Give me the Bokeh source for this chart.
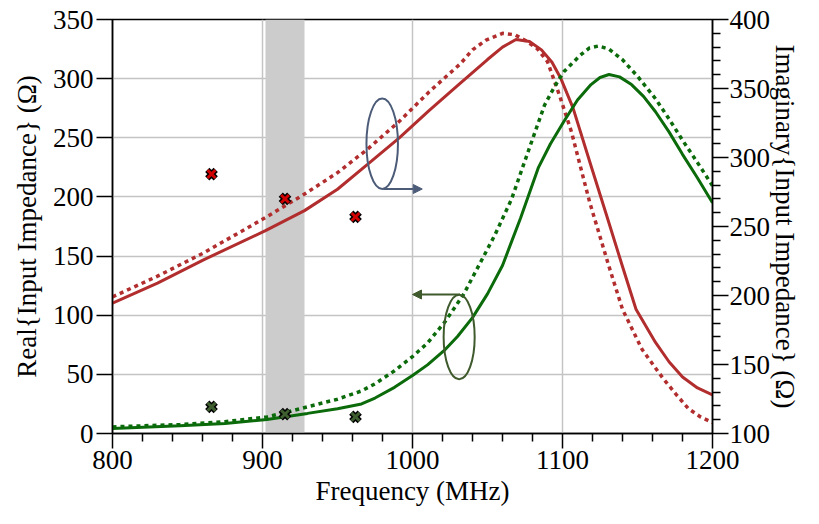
from bokeh.plotting import figure
from bokeh.models import Range1d, LinearAxis, BoxAnnotation, Arrow, NormalHead, FixedTicker
from bokeh.embed import file_html
from bokeh.resources import INLINE

# ---------------- data ----------------
# Imaginary part (right axis), simulated: solid and dotted
imag_solid_f = [800, 830, 861, 902, 928, 950, 970, 991, 1011, 1030, 1050, 1060, 1069, 1078, 1086, 1093, 1099, 1107, 1119, 1130, 1140, 1149, 1162, 1171, 1180, 1190, 1200]
imag_solid_v = [194.5, 209, 226, 247, 261.5, 277, 295, 314, 334, 352, 371, 380, 385.5, 384, 378, 369, 357, 336, 294, 256, 221, 190, 166, 152, 141, 133, 128]
imag_dot_f = [800, 830, 861, 902, 928, 950, 970, 991, 1011, 1032, 1040, 1049, 1060, 1068, 1075, 1083, 1090, 1098, 1106, 1118, 1131, 1140, 1153, 1167, 1176, 1184, 1192, 1200]
imag_dot_v = [199, 214, 231, 256.5, 273.5, 289, 306, 326, 347.5, 368, 378, 385, 390, 389, 385, 379, 369.5, 345, 318.5, 268, 221, 190, 161, 140, 128, 118, 112, 108]

# Real part (left axis), simulated: solid and dotted
real_solid_f = [800, 845, 875, 903, 930, 950, 966, 975, 988, 1000, 1010, 1021, 1030, 1040, 1050, 1060, 1072, 1084, 1092, 1101, 1110, 1119, 1125, 1131, 1138, 1146, 1154, 1162, 1171, 1180, 1190, 1200]
real_solid_v = [4.2, 6.5, 8.5, 11.9, 17, 21, 25, 30, 39, 49, 58, 70, 82, 98, 118, 142, 182, 225, 245, 264, 282, 295, 301, 303.5, 301.5, 295, 285, 272, 255, 236, 216, 195]
real_dot_f = [800, 845, 875, 903, 916, 930, 950, 966, 975, 988, 1000, 1010, 1022, 1034, 1044, 1055, 1066, 1077, 1088, 1095, 1101, 1112, 1118, 1124, 1131, 1140, 1150, 1162, 1171, 1180, 1190, 1200]
real_dot_v = [5.6, 7.6, 10, 14, 18, 22.6, 29, 36, 42, 53, 65, 76.5, 95, 117.5, 141.5, 168, 198, 238, 277.5, 294, 306, 320, 326, 327.6, 325, 316, 302, 283, 266, 248, 229, 209.5]

# Measured points
meas_f = [866, 915, 962]
meas_imag = [288, 270, 257]
meas_real = [22.6, 16.4, 14.1]

# ISM band
band_lo, band_hi = 902, 928

# ticks
x_ticks = [800, 900, 1000, 1100, 1200]
x_minor = [820, 840, 860, 880, 920, 940, 960, 980, 1020, 1040, 1060, 1080, 1120, 1140, 1160, 1180]
left_ticks = [0, 50, 100, 150, 200, 250, 300, 350]
right_ticks = [100, 150, 200, 250, 300, 350, 400]
right_minor = [v for v in range(110, 400, 10) if v % 50 != 0]

RED = "#b22d2d"
GREEN = "#0b6b0b"
FONT = "'Liberation Serif', serif"
FS = "27px"

p = figure(width=803, height=508, x_range=Range1d(800, 1200), y_range=Range1d(0, 350),
           output_backend="svg", toolbar_location=None,
           min_border_left=112, min_border_top=19, min_border_right=10, min_border_bottom=10)
p.extra_y_ranges = {"imag": Range1d(100, 400)}
p.outline_line_color = "black"
p.outline_line_width = 1.5
p.background_fill_color = "white"
p.border_fill_color = "white"

# grid
p.xgrid.ticker = FixedTicker(ticks=x_ticks)
p.ygrid.ticker = FixedTicker(ticks=left_ticks)
for g in (p.xgrid, p.ygrid):
    g.grid_line_color = "#c4c4c4"
    g.grid_line_width = 1.5

# band
p.add_layout(BoxAnnotation(left=band_lo, right=band_hi, fill_color="#cccccc", fill_alpha=1.0,
                           line_alpha=0, level="underlay"))

# x axis
xa = p.xaxis[0]
xa.ticker = FixedTicker(ticks=x_ticks, minor_ticks=x_minor)
xa.axis_label = "Frequency (MHz)"

ya = p.yaxis[0]
ya.ticker = FixedTicker(ticks=left_ticks)
ya.axis_label = "Real{Input Impedance} (Ω)"

ra = LinearAxis(y_range_name="imag", ticker=FixedTicker(ticks=right_ticks, minor_ticks=right_minor),
                axis_label="Imaginary{Input Impedance} (Ω)")
p.add_layout(ra, "right")

for ax in (xa, ya, ra):
    ax.axis_line_color = "black"
    ax.axis_line_width = 1.5
    ax.major_tick_line_color = "black"
    ax.major_tick_line_width = 1.5
    ax.minor_tick_line_color = "black"
    ax.minor_tick_line_width = 1.5
    ax.major_tick_in = 0
    ax.minor_tick_in = 0
    ax.major_tick_out = 16
    ax.minor_tick_out = 8
    ax.major_label_text_font = FONT
    ax.major_label_text_font_size = FS
    ax.major_label_text_color = "black"
    ax.axis_label_text_font = FONT
    ax.axis_label_text_font_size = FS
    ax.axis_label_text_font_style = "normal"
    ax.axis_label_text_color = "black"
ya.minor_tick_out = 0
xa.major_tick_out = 15
xa.major_label_standoff = 2
xa.axis_label_standoff = 4
ya.major_label_standoff = 3
ya.axis_label_standoff = 8
ra.major_label_standoff = 1
ra.axis_label_standoff = -3

# curves
p.line(imag_dot_f, imag_dot_v, y_range_name="imag", line_color=RED, line_width=3.5, line_dash="4 4")
p.line(imag_solid_f, imag_solid_v, y_range_name="imag", line_color=RED, line_width=3)
p.line(real_dot_f, real_dot_v, line_color=GREEN, line_width=3.5, line_dash="4 4")
p.line(real_solid_f, real_solid_v, line_color=GREEN, line_width=3)

# measured markers
p.scatter(meas_f, meas_imag, y_range_name="imag", marker="x", size=12, line_color="black", line_width=6)
p.scatter(meas_f, meas_imag, y_range_name="imag", marker="x", size=11, line_color="#d00000", line_width=3)
p.scatter(meas_f, meas_real, marker="x", size=12, line_color="black", line_width=6)
p.scatter(meas_f, meas_real, marker="x", size=11, line_color="#3e5e30", line_width=3)

# annotations: ellipses + arrows
BLUEGRAY = "#4b5b78"
OLIVE = "#3f5a2c"
p.ellipse(x=[979.8], y=[245], width=21, height=76.5, fill_alpha=0, line_color=BLUEGRAY, line_width=2)
p.add_layout(Arrow(x_start=980.5, y_start=206.7, x_end=1006.5, y_end=206.7, line_color=BLUEGRAY, line_width=2,
                   end=NormalHead(size=9, fill_color=BLUEGRAY, line_color=BLUEGRAY)))
p.ellipse(x=[1031.1], y=[81.6], width=20.7, height=71.6, fill_alpha=0, line_color=OLIVE, line_width=2)
p.add_layout(Arrow(x_start=1031.7, y_start=117.5, x_end=1000, y_end=117.5, line_color=OLIVE, line_width=2,
                   end=NormalHead(size=9, fill_color=OLIVE, line_color=OLIVE)))

open("out.html", "w").write(file_html(p, INLINE))
